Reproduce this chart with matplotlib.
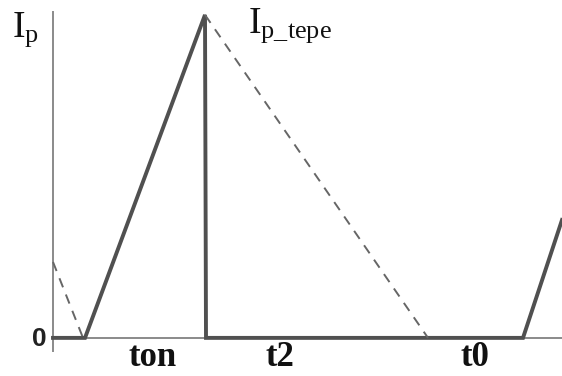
import numpy as np
import matplotlib.pyplot as plt

plt.rcParams['mathtext.fontset'] = 'custom'
plt.rcParams['mathtext.rm'] = 'Liberation Serif'

# waveform corners (time in arbitrary units, current normalised to peak)
t_solid = [0.0, 3.2, 15.2, 15.3, 47.0, 50.9]
i_solid = [0.0, 0.0, 1.0, 0.0, 0.0, 0.365]

# dashed (inductor discharge) segments
t_dash1 = [0.0, 3.0]
i_dash1 = [0.235, 0.0]
t_dash2 = [15.2, 37.5]
i_dash2 = [1.0, 0.0]

# interval labels
seg_names = ['ton', 't2', 't0']
seg_pos = [10.0, 22.7, 42.2]

fig = plt.figure(figsize=(5.62, 3.76), dpi=100)
ax = fig.add_axes([0, 0, 1, 1])
ax.set_xlim(-5.3, 50.9)
ax.set_ylim(-0.118, 1.046)
ax.axis('off')

# axes drawn by hand
ax.plot([0, 0], [-0.04, 1.009], color='#8a8a8a', lw=1.4)
ax.plot([0, 50.9], [0, 0], color='#8a8a8a', lw=1.4)

ax.plot(t_solid, i_solid, color='#505050', lw=2.8, solid_joinstyle='miter')
ax.plot(t_dash1, i_dash1, color='#666666', lw=1.4, dashes=(5, 4))
ax.plot(t_dash2, i_dash2, color='#666666', lw=1.4, dashes=(5, 4))

ax.text(-4.1, 0.932, r'$\mathrm{I_p}$', fontsize=27, color='#111111',
        ha='left', va='baseline')
ax.text(19.5, 0.944, r'$\mathrm{I_{p\_tepe}}$', fontsize=27, color='#111111',
        ha='left', va='baseline')
ax.text(-1.4, -0.002, '0', family='Liberation Sans', weight='bold',
        fontsize=19, color='#222222', ha='center', va='center')

for name, pos in zip(seg_names, seg_pos):
    ax.text(pos, -0.062, name, family='Liberation Serif', weight='bold',
            fontsize=25, color='#111111', ha='center', va='center')

plt.savefig('out.png')
